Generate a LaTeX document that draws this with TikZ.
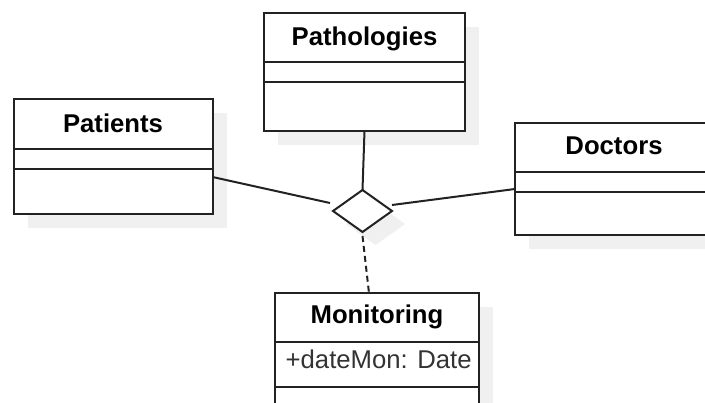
\documentclass[tikz,border=0pt]{standalone}
\usepackage{fontspec}
\setmainfont{Liberation Sans}
\usetikzlibrary{shapes.geometric,calc,backgrounds}
\definecolor{ln}{HTML}{222222}
\definecolor{shd}{HTML}{F0F0F0}
\definecolor{attrc}{HTML}{333333}
\begin{document}
\begin{tikzpicture}[x=1pt,y=-1pt,
  box/.style={draw=ln,line width=2pt,fill=white,rectangle,inner sep=0pt,outer sep=0pt},
  relbox/.style={draw=ln,line width=2pt,fill=white,diamond,inner sep=0pt,outer sep=0pt,minimum width=59pt,minimum height=42pt},
  ttl/.style={font=\fontsize{25.7}{30}\selectfont\bfseries,text=black,anchor=base,inner sep=0pt},
  attr/.style={font=\fontsize{25.7}{30}\selectfont,text=attrc,anchor=base west,inner sep=0pt},
  conn/.style={draw=ln,line width=2pt},
  sep/.style={draw=ln,line width=2pt},
  shadowfill/.style={fill=shd}]
\clip (0,0) rectangle (705,403);

% class boxes
\node[box,minimum width=199pt,minimum height=115pt] (pat) at (113,156.5) {};
\node[box,minimum width=201pt,minimum height=118pt] (path) at (364.5,72) {};
\node[box,minimum width=198pt,minimum height=112pt] (doc) at (614,179) {};
\node[box,minimum width=204pt,minimum height=140pt] (mon) at (377,363) {};
\node[relbox] (dia) at (362.5,211) {};

% background and shadows
\begin{scope}[on background layer]
  \fill[white] (0,0) rectangle (705,403);
  \foreach \n in {pat,path,doc,mon}{
    \fill[shadowfill] ([shift={(14pt,-14pt)}]\n.south west) rectangle ([shift={(14pt,-14pt)}]\n.north east);
  }
  \fill[shadowfill] ([shift={(13pt,-13pt)}]dia.north) -- ([shift={(13pt,-13pt)}]dia.east)
    -- ([shift={(13pt,-13pt)}]dia.south) -- ([shift={(13pt,-13pt)}]dia.west) -- cycle;
\end{scope}

% compartment separators
\draw[sep] ([yshift=-50pt]pat.north west) -- ([yshift=-50pt]pat.north east);
\draw[sep] ([yshift=-70pt]pat.north west) -- ([yshift=-70pt]pat.north east);
\draw[sep] ([yshift=-49pt]path.north west) -- ([yshift=-49pt]path.north east);
\draw[sep] ([yshift=-69pt]path.north west) -- ([yshift=-69pt]path.north east);
\draw[sep] ([yshift=-49pt]doc.north west) -- ([yshift=-49pt]doc.north east);
\draw[sep] ([yshift=-69pt]doc.north west) -- ([yshift=-69pt]doc.north east);
\draw[sep] ([yshift=-49pt]mon.north west) -- ([yshift=-49pt]mon.north east);
\draw[sep] ([yshift=-94pt]mon.north west) -- ([yshift=-94pt]mon.north east);

% titles
\node[ttl] (patT) at (113,133) {Patients};
\node[ttl] (pathT) at (364.5,46) {Pathologies};
\node[ttl] (docT) at (614,155) {Doctors};
\node[ttl] (monT) at (377,324) {Monitoring};
\node[attr] (monA) at (285.5,369) {+dateMon: Date};

% connectors
\draw[conn] ([yshift=-20.5pt]pat.east) -- ([xshift=-3pt,yshift=8pt]dia.west);
\draw[conn] (path.south) -- (dia.north);
\draw[conn] ([yshift=6pt]dia.east) -- ([yshift=-10pt]doc.west);
\draw[conn,dash pattern=on 6pt off 4pt] ([yshift=-4pt]dia.south) -- ([xshift=-8pt]mon.north);
\end{tikzpicture}
\end{document}
